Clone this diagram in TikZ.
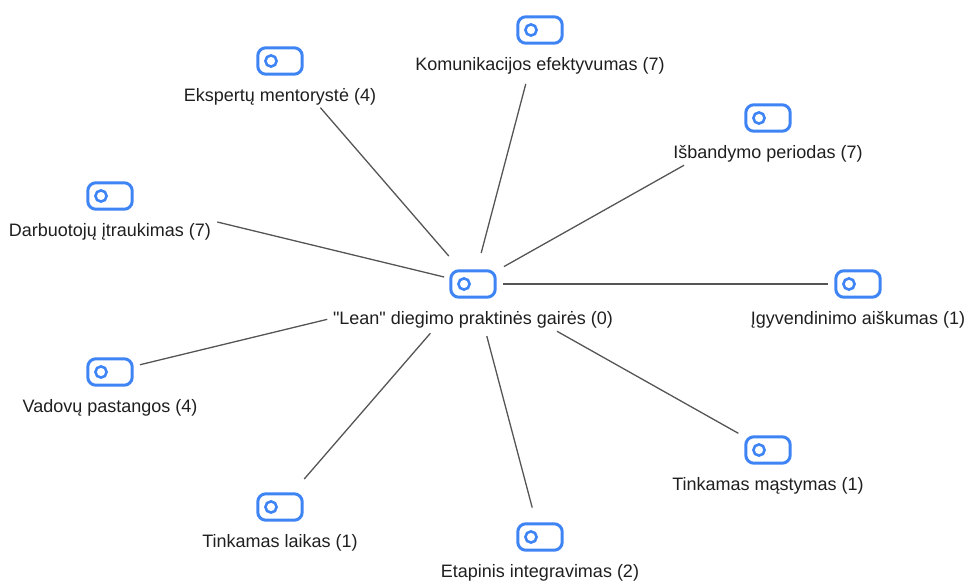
\documentclass[tikz,border=0pt]{standalone}
\usepackage{fontspec}
\setmainfont{Liberation Sans}
\usetikzlibrary{calc}
\definecolor{iconblue}{HTML}{3F84F5}
\definecolor{edgegray}{HTML}{555555}
\definecolor{txt}{HTML}{1F1F1F}
\tikzset{
  icon/.style={minimum width=44pt, minimum height=26pt, inner sep=0pt},
  lbl/.style={font=\fontsize{18}{21}\selectfont, text=txt, inner sep=0pt, anchor=center},
  edge/.style={draw=edgegray, line width=1.3pt},
}
\newcommand{\iconat}[2]{%
  \node[icon] (#1) at (#2) {};
  \draw[iconblue, line width=3pt, rounded corners=8pt] (#1.south west) rectangle (#1.north east);
  \draw[iconblue, line width=2.6pt] ($(#1)+(-9,0)$) circle (5.6pt);
}
\begin{document}
\begin{tikzpicture}[x=1pt, y=-1pt]
\useasboundingbox (0,0) rectangle (967,581);
\iconat{c}{473,284}
\iconat{kom}{540,30}
\iconat{eks}{280,61}
\iconat{isb}{768,118}
\iconat{dar}{110,196}
\iconat{igy}{858,284}
\iconat{vad}{110,372}
\iconat{tms}{768,450}
\iconat{tla}{280,507}
\iconat{eta}{540,537}
\node[lbl] (cl) at ($(c)+(0,36)$) {\textquotedbl Lean\textquotedbl{} diegimo praktinės gairės (0)};
\node[lbl] (koml) at ($(kom)+(0,36)$) {Komunikacijos efektyvumas (7)};
\node[lbl] (eksl) at ($(eks)+(0,36)$) {Ekspertų mentorystė (4)};
\node[lbl] (isbl) at ($(isb)+(0,36)$) {Išbandymo periodas (7)};
\node[lbl] (darl) at ($(dar)+(0,36)$) {Darbuotojų įtraukimas (7)};
\node[lbl] (igyl) at ($(igy)+(0,36)$) {Įgyvendinimo aiškumas (1)};
\node[lbl] (vadl) at ($(vad)+(0,36)$) {Vadovų pastangos (4)};
\node[lbl] (tmsl) at ($(tms)+(0,36)$) {Tinkamas mąstymas (1)};
\node[lbl] (tlal) at ($(tla)+(0,36)$) {Tinkamas laikas (1)};
\node[lbl] (etal) at ($(eta)+(0,36)$) {Etapinis integravimas (2)};
\draw[edge] ($(c)!32pt!(kom)$) -- ($(kom)!55.7pt!(c)$);
\draw[edge] ($(c)!37pt!(eks)$) -- ($(eks)!61.7pt!(c)$);
\draw[edge] ($(c)!35.5pt!(isb)$) -- ($(isb)!96.3pt!(c)$);
\draw[edge] ($(c)!29.7pt!(dar)$) -- ($(dar)!110.4pt!(c)$);
\draw[edge] ($(c)!30pt!(igy)$) -- ($(igy)!30pt!(c)$);
\draw[edge] ($(c)!150pt!(vad)$) -- ($(vad)!30.8pt!(c)$);
\draw[edge] ($(c)!96.4pt!(tms)$) -- ($(tms)!34pt!(c)$);
\draw[edge] ($(c)!65.2pt!(tla)$) -- ($(tla)!37pt!(c)$);
\draw[edge] ($(c)!53.9pt!(eta)$) -- ($(eta)!30.4pt!(c)$);
\end{tikzpicture}
\end{document}
